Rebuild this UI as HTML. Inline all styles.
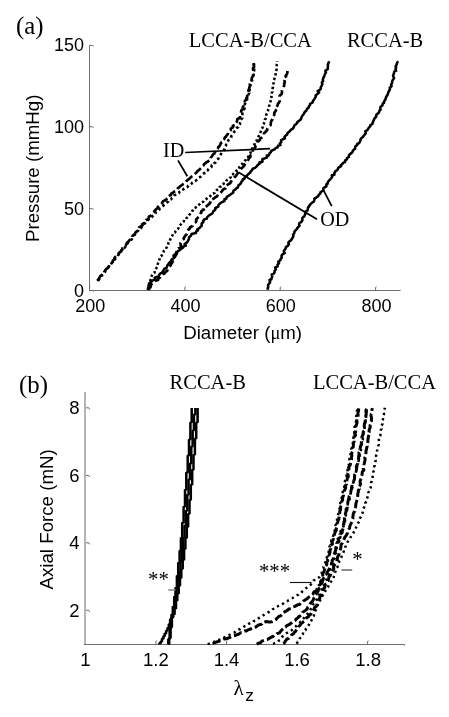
<!DOCTYPE html>
<html lang="en">
<head>
<meta charset="utf-8">
<title>Pressure-diameter and axial force-stretch curves</title>
<style>
  html, body { margin: 0; padding: 0; background: #fff; }
  body { width: 449px; height: 717px; overflow: hidden; }
  svg { display: block; }
  text { fill: #000; }
  .s { font-family: 'Liberation Sans', sans-serif; font-size: 18.0px; }
  .b { font-size: 18.5px; }
  .l { font-size: 18.7px; }
  .sym { font-family: 'Liberation Serif', serif; font-size: 18.4px; }
  .t { font-family: 'Liberation Serif', serif; font-size: 20.5px; }
  .big { font-size: 24.8px; }
  .sm { font-size: 20.2px; }
  .lam { font-size: 21px; }
  .z { font-size: 17.3px; }
  .st { font-size: 20.8px; }
</style>
</head>
<body>
<svg width="449" height="717" viewBox="0 0 449 717">
<rect width="449" height="717" fill="#fff"/>
<g id="plot-a">
<path d="M89.5 45.4 V290.5 H400.6" fill="none" stroke="#6e6e6e" stroke-width="1"/>
<path d="M89.5 45.4 h3.2 l1 .9 M89.5 126.8 h3.2 l1 .9 M89.5 208.7 h3.2 l1 .9 M89.5 290.5 h3.2 l1 .9 M89.5 290.5 v-3.2 l.9 -.6 M184.9 290.5 v-3.2 l.9 -.6 M280.2 290.5 v-3.2 l.9 -.6 M375.6 290.5 v-3.2 l.9 -.6" fill="none" stroke="#666" stroke-width="1"/>
<path d="M97.3 280.9 L98.4 279.4 L99.2 278.2 L99.9 276.7 L101.1 275.4 L101.9 274.8 L103.3 273.0 L104.9 272.0 L105.1 270.6 L106.0 269.3 L107.5 268.0 L108.5 267.0 L109.4 265.5 L109.9 264.3 L111.3 263.1 L112.7 262.1 L112.8 260.7 L114.2 259.4 L114.5 257.8 L115.8 256.4 L116.6 255.7 L118.3 254.5 L118.9 252.9 L120.6 251.8 L121.5 250.6 L122.4 249.4 L122.3 248.2 L124.2 246.5 L125.5 245.8 L126.6 243.8 L126.8 243.1 L128.3 241.7 L129.1 240.6 L130.2 239.6 L132.1 238.2 L132.2 236.3 L133.6 234.8 L135.0 234.3 L135.4 232.5 L136.6 231.5 L137.7 230.5 L138.7 228.6 L139.2 227.2 L140.8 226.6 L142.5 225.4 L142.2 224.1 L144.4 222.9 L145.1 221.5 L145.9 220.1 L148.2 219.3 L148.7 217.9 L148.9 216.5 L150.5 215.9 L151.8 214.5 L152.5 213.4 L154.0 211.8 L154.7 210.7 L156.1 209.3 L157.5 208.2 L157.6 207.2 L159.1 205.8 L159.9 204.9 L161.3 203.8 L161.9 203.1 L163.3 201.1 L164.7 200.6 L166.4 199.2 L167.7 198.1 L167.7 196.6 L169.2 195.8 L171.0 195.1 L171.1 193.8 L173.0 192.8 L174.4 191.6 L176.2 191.0 L177.2 189.6 L178.0 188.0 L179.2 187.3 L180.5 186.0 L182.5 184.6 L182.9 184.3 L184.1 183.7 L185.6 182.3 L186.6 180.9 L187.8 179.8 L188.6 179.3 L190.2 177.9 L191.2 176.8 L193.1 175.7 L194.1 174.6 L195.0 173.7 L196.5 172.5 L197.2 171.3 L199.1 169.9 L199.8 169.3 L201.3 167.9 L201.6 167.3 L203.6 165.5 L203.8 164.7 L204.8 163.6 L206.7 162.1 L207.6 161.8 L209.1 160.5 L211.1 158.8 L210.7 157.8 L211.8 156.5 L213.2 154.3 L214.2 153.8 L214.9 152.4 L215.8 151.1 L217.2 149.5 L218.0 148.4 L218.2 147.1 L219.5 146.1 L220.4 144.5 L220.8 143.0 L222.3 142.1 L222.7 140.2 L224.4 138.9 L225.0 137.2 L225.9 136.8 L226.6 135.4 L227.8 134.1 L228.0 132.7 L229.3 131.3 L230.9 130.0 L230.8 128.6 L233.0 127.3 L232.7 126.0 L234.8 125.0 L234.9 123.4 L236.6 121.9 L237.2 120.4 L237.3 119.0 L239.4 118.2 L240.1 116.5 L240.1 114.9 L240.6 113.3 L241.2 111.5 L241.4 110.3 L242.9 109.1 L242.8 107.2 L243.6 105.8 L243.9 104.3 L244.6 102.8 L244.8 100.9 L246.4 99.7 L246.3 98.0 L247.2 96.9 L247.3 94.9 L247.4 93.7 L248.0 92.4 L248.4 90.4 L249.1 88.7 L249.4 87.4 L249.9 85.8 L249.9 84.0 L250.6 82.8 L252.2 81.7 L251.6 79.5 L251.8 78.0 L252.8 76.2 L253.6 75.0 L252.6 73.0 L253.4 71.4 L253.3 70.4 L252.9 68.2 L254.1 67.2 L253.8 65.7 L253.8 63.7 L253.5 62.1" fill="none" stroke="#000" stroke-width="2.7" stroke-linecap="butt" stroke-linejoin="round" stroke-dasharray="8.5 3.2"/>
<path d="M98.4 281.0 L98.5 280.0 L99.4 278.9 L100.0 277.1 L101.6 275.7 L103.2 274.6 L104.0 273.2 L104.2 271.9 L105.3 270.8 L106.4 269.3 L107.7 268.5 L108.5 267.0 L109.7 265.8 L110.8 264.5 L111.6 263.1 L112.7 261.8 L113.8 260.7 L114.7 259.4 L116.0 258.3 L117.5 257.0 L118.0 255.4 L118.8 254.5 L119.2 252.9 L121.0 251.8 L121.1 250.6 L122.3 249.0 L124.2 248.2 L125.2 247.0 L125.8 245.6 L126.2 244.3 L127.8 243.1 L128.7 241.7 L130.2 240.6 L131.9 239.3 L132.1 238.1 L132.7 236.6 L133.5 235.6 L135.0 234.4 L136.0 233.0 L136.6 231.7 L138.2 230.7 L138.7 229.0 L140.7 228.3 L141.8 227.0 L142.9 225.9 L143.4 224.7 L144.9 223.3 L145.8 222.3 L146.9 221.4 L148.1 220.2 L148.8 219.0 L149.9 217.5 L152.0 216.9 L152.8 215.9 L154.1 214.8 L155.6 213.5 L155.7 211.9 L157.3 211.4 L158.8 210.1 L160.1 208.4 L161.0 208.0 L162.7 206.5 L163.6 205.4 L164.2 204.4 L165.5 203.8 L167.3 202.2 L168.4 201.3 L168.6 200.5 L171.1 199.4 L172.0 197.9 L173.5 196.8 L174.1 195.6 L175.4 194.7 L176.3 194.0 L179.1 193.0 L179.3 192.0 L181.4 191.3 L181.8 190.0 L183.5 189.3 L184.1 188.5 L185.9 187.6 L187.8 186.8 L188.2 185.7 L190.5 184.6 L191.5 183.8 L192.3 182.6 L193.8 181.5 L195.2 181.1 L196.6 180.0 L197.7 179.1 L198.9 177.6 L200.4 176.9 L201.3 175.8 L202.4 174.7 L204.1 173.3 L205.7 172.6 L205.8 171.8 L207.6 170.5 L208.4 169.1 L209.4 168.1 L211.3 167.1 L211.8 165.1 L213.8 164.5 L214.0 163.5 L215.6 162.4 L216.3 161.4 L217.1 160.0 L218.6 158.4 L219.2 157.1 L220.3 155.8 L221.0 154.1 L221.4 152.9 L222.6 151.7 L223.5 150.6 L224.7 148.7 L224.7 147.3 L225.8 145.9 L226.0 144.8 L227.7 143.1 L227.8 142.0 L228.4 140.1 L229.9 138.9 L231.2 137.5 L231.1 136.4 L232.2 135.1 L233.2 133.2 L234.0 132.0 L235.5 130.9 L235.9 129.3 L236.8 127.8 L238.3 127.1 L238.7 125.6 L240.0 124.2 L240.0 122.5 L240.3 121.4 L240.5 119.5 L242.3 118.2 L241.8 116.2 L242.3 114.6 L242.5 113.2 L243.0 111.4 L243.4 110.2 L244.6 108.5 L243.9 106.7 L244.2 105.4 L245.0 103.8 L245.4 102.6 L246.7 100.6 L247.2 99.1 L246.9 98.0 L247.2 96.7 L248.1 95.1 L249.2 93.1 L248.0 91.5 L249.7 90.3 L249.5 88.3 L250.8 86.6 L250.3 85.3 L251.1 83.8 L251.0 81.9 L251.7 80.2 L253.0 78.6 L253.2 77.6 L253.1 75.7 L253.3 74.2 L253.2 72.7 L254.0 71.2 L254.2 69.4 L254.2 68.0 L254.2 66.0 L253.8 64.5 L254.3 62.8" fill="none" stroke="#000" stroke-width="2.6" stroke-linecap="butt" stroke-linejoin="round" stroke-dasharray="2.6 2.8"/>
<path d="M149.0 285.8 L149.1 284.3 L149.3 283.1 L149.9 281.4 L150.5 280.0 L151.3 278.2 L151.2 277.0 L152.0 275.2 L152.9 273.8 L154.5 272.9 L154.8 271.1 L155.3 269.5 L156.3 268.2 L157.4 266.8 L157.4 265.5 L157.9 263.6 L158.8 261.9 L159.0 260.6 L159.6 259.1 L159.8 257.6 L161.2 256.4 L162.0 254.9 L162.5 253.6 L163.5 252.0 L163.7 251.0 L165.4 249.9 L166.1 248.3 L167.0 246.8 L167.8 245.3 L168.2 244.2 L168.5 242.2 L169.8 240.9 L170.2 239.5 L171.0 238.1 L171.7 236.5 L172.6 235.3 L172.9 233.8 L174.9 232.6 L175.6 231.3 L176.8 229.8 L178.1 228.8 L178.6 227.7 L179.0 226.1 L180.3 225.0 L181.3 223.9 L182.5 222.4 L183.8 221.4 L184.2 219.9 L186.0 219.1 L186.5 218.1 L188.1 216.9 L189.0 215.2 L190.0 214.2 L191.0 212.8 L191.9 211.5 L192.8 210.4 L193.6 208.7 L195.1 207.9 L196.8 206.7 L198.1 205.9 L199.1 204.7 L200.2 203.5 L201.1 202.7 L203.1 201.9 L204.0 200.8 L205.3 200.0 L206.6 198.8 L208.0 197.6 L209.1 197.1 L210.4 196.0 L211.3 194.9 L212.8 193.8 L214.8 192.9 L215.3 191.6 L216.4 190.4 L217.8 189.4 L219.1 188.6 L219.7 187.0 L221.1 186.4 L222.6 184.9 L223.6 183.7 L224.7 183.0 L226.3 181.6 L226.7 180.3 L228.1 179.3 L229.0 178.4 L230.8 177.2 L230.9 175.8 L232.4 174.8 L233.5 173.7 L235.0 172.2 L236.0 171.2 L237.4 170.0 L237.5 168.7 L239.3 167.5 L240.1 166.4 L241.0 165.2 L242.5 163.8 L243.1 162.7 L243.9 161.7 L245.4 160.3 L246.1 159.2 L247.3 158.0 L248.4 156.5 L249.2 155.4 L250.4 153.5 L250.6 152.3 L250.9 150.6 L251.8 149.6 L252.5 148.1 L253.1 146.0 L254.3 144.7 L254.8 143.6 L255.1 142.2 L256.6 140.7 L257.1 139.1 L257.9 137.8 L258.6 136.4 L259.4 134.8 L259.9 133.5 L260.9 131.4 L261.3 130.5 L261.9 128.7 L262.6 127.6 L262.6 125.8 L263.6 124.2 L264.1 122.9 L264.8 121.2 L264.9 119.7 L266.2 118.0 L266.3 116.8 L266.3 115.3 L266.6 113.9 L267.5 112.1 L268.0 110.8 L268.2 109.0 L268.9 107.4 L269.1 106.0 L269.9 104.5 L270.0 102.7 L270.6 101.2 L271.2 99.6 L272.0 98.1 L271.2 96.3 L271.6 95.1 L271.7 93.2 L272.4 91.8 L272.1 89.9 L272.5 88.6 L273.0 87.0 L273.0 85.3 L273.3 84.1 L273.8 82.2 L273.7 80.9 L274.3 79.2 L275.0 77.3 L275.4 75.8 L275.6 74.4 L275.4 72.7 L276.0 71.1 L276.6 69.5 L276.8 67.6 L276.8 66.3 L276.7 64.3 L277.3 63.2 L277.1 61.4" fill="none" stroke="#000" stroke-width="2.55" stroke-linecap="butt" stroke-linejoin="round" stroke-dasharray="2.4 2.3"/>
<path d="M148.6 289.5 L149.7 288.1 L150.8 286.6 L150.8 284.8 L151.7 284.1 L153.1 282.7 L153.8 281.7 L155.5 280.8 L158.1 279.9 L158.0 278.9 L160.0 277.4 L160.2 276.7 L162.2 275.6 L163.0 274.5 L164.3 273.4 L165.7 271.8 L167.4 270.6 L167.6 269.6 L168.6 267.7 L169.0 266.9 L170.7 265.3 L171.2 264.0 L172.5 262.2 L172.8 261.0 L174.4 259.8 L173.2 258.6 L174.6 257.1 L175.9 255.3 L175.9 253.8 L176.3 252.1 L177.2 251.0 L177.3 249.3 L178.8 248.1 L180.7 247.0 L180.8 245.1 L180.4 243.2 L181.3 242.0 L182.3 240.4 L183.8 239.0 L183.7 238.4 L184.6 236.7 L186.2 234.7 L187.0 234.0 L187.3 232.8 L187.8 231.0 L188.5 229.6 L189.9 228.4 L190.0 227.2 L192.5 226.0 L192.7 224.9 L194.2 223.5 L195.8 222.2 L196.4 220.9 L196.2 219.4 L198.1 217.4 L199.2 216.5 L199.2 215.3 L200.0 213.8 L201.3 212.8 L201.4 211.1 L203.9 209.6 L203.0 209.1 L204.7 207.7 L206.3 206.4 L207.4 205.4 L208.8 204.4 L210.0 203.0 L211.0 201.1 L212.8 200.5 L212.3 199.4 L214.5 198.1 L215.3 197.3 L216.9 196.5 L218.1 194.8 L218.7 193.5 L220.0 193.3 L221.8 191.4 L222.7 190.0 L223.3 189.3 L225.8 188.2 L227.0 186.6 L226.2 185.9 L228.2 184.3 L230.4 183.0 L230.6 182.1 L231.4 181.1 L232.3 179.5 L233.2 178.5 L234.4 177.2 L235.3 176.8 L236.9 174.5 L237.4 173.9 L238.4 172.2 L239.0 170.9 L240.6 169.9 L241.1 168.7 L242.5 167.5 L244.1 165.9 L244.7 164.4 L245.8 163.1 L246.7 162.1 L247.5 160.8 L248.3 159.7 L249.1 158.1 L250.4 156.9 L250.3 155.6 L252.3 153.8 L252.4 151.8 L252.7 150.5 L253.6 149.0 L254.3 148.5 L255.6 146.4 L256.0 145.6 L257.8 144.1 L257.8 143.1 L258.0 141.6 L259.8 140.0 L260.1 138.7 L262.0 137.4 L263.5 136.1 L264.1 134.5 L264.0 133.3 L265.1 132.4 L267.2 130.0 L267.2 129.2 L267.8 127.4 L269.1 126.3 L270.6 125.1 L270.8 123.4 L270.9 122.2 L271.8 120.0 L272.6 119.4 L272.7 117.4 L273.1 116.3 L274.3 114.7 L274.4 112.4 L275.4 111.4 L276.0 110.2 L277.7 109.0 L276.6 107.1 L277.5 105.6 L278.0 103.6 L278.8 102.9 L279.6 101.4 L279.3 99.4 L279.6 97.7 L279.7 95.8 L280.5 95.0 L281.7 94.0 L282.0 91.8 L281.9 90.5 L282.8 88.7 L283.5 86.7 L284.2 85.9 L284.2 83.6 L284.8 82.3 L284.5 80.9 L285.2 79.5 L287.0 77.8 L285.5 76.3 L286.8 74.3 L287.4 72.6 L287.4 71.4 L287.5 69.6" fill="none" stroke="#000" stroke-width="2.7" stroke-linecap="butt" stroke-linejoin="round" stroke-dasharray="7.5 3.5"/>
<path d="M147.9 290.2 L148.1 287.7 L148.9 286.9 L148.5 286.2 L149.3 283.1 L149.8 282.8 L151.9 281.4 L153.2 280.1 L155.5 279.6 L154.7 277.6 L156.6 277.0 L158.8 276.4 L159.3 274.6 L160.4 273.4 L162.7 272.5 L162.7 271.2 L163.3 270.8 L164.3 268.7 L166.4 268.1 L167.3 266.1 L167.3 265.5 L168.5 263.9 L170.4 261.7 L171.3 261.4 L171.5 259.6 L173.2 258.5 L174.0 257.9 L173.5 255.6 L175.3 254.3 L176.8 253.9 L177.2 252.2 L177.4 251.6 L179.7 250.0 L181.5 248.5 L183.1 247.7 L182.0 247.0 L185.9 245.6 L184.6 244.0 L186.7 242.7 L187.8 241.2 L188.5 239.7 L188.9 239.3 L189.1 237.2 L191.1 235.6 L191.4 234.7 L191.5 234.1 L196.0 233.0 L196.0 231.7 L197.9 230.5 L197.3 229.6 L199.8 227.7 L200.8 226.5 L201.7 225.9 L201.6 224.1 L201.9 223.1 L203.4 222.1 L203.3 220.7 L204.6 219.2 L206.8 218.8 L207.2 217.1 L208.8 215.6 L210.0 214.8 L212.3 213.5 L213.1 211.9 L213.4 211.1 L215.3 209.8 L215.2 208.0 L216.6 207.5 L218.5 206.3 L218.3 205.1 L220.0 203.6 L220.6 202.9 L222.6 201.9 L224.6 200.8 L224.4 199.3 L226.2 198.8 L226.7 197.0 L227.7 196.3 L228.8 195.7 L231.5 193.8 L233.2 192.7 L233.2 192.2 L233.6 190.5 L235.6 189.4 L236.1 188.4 L237.9 187.5 L238.6 185.1 L239.7 184.5 L241.0 183.2 L241.3 181.9 L242.5 180.8 L242.7 179.5 L244.5 178.7 L244.9 177.0 L246.7 176.2 L247.3 175.1 L249.0 173.5 L250.3 172.6 L250.3 172.0 L251.8 170.3 L252.8 168.8 L255.0 167.9 L256.7 166.4 L257.3 165.7 L257.8 164.9 L260.1 163.1 L259.5 162.3 L262.5 161.7 L262.4 160.0 L262.3 159.2 L266.7 157.6 L267.2 156.5 L266.8 155.5 L268.7 155.4 L269.6 153.3 L270.9 152.1 L271.1 151.0 L272.8 150.1 L274.7 149.3 L275.7 148.0 L277.5 147.6 L278.0 145.8 L280.4 145.1 L279.7 143.5 L281.3 142.3 L281.0 140.3 L282.3 139.5 L284.9 138.3 L284.5 136.9 L286.4 134.9 L287.0 134.8 L287.5 133.1 L289.0 131.9 L290.0 130.8 L291.1 129.6 L292.9 128.6 L293.9 126.8 L294.2 125.7 L295.0 124.9 L296.7 123.5 L297.4 122.1 L299.1 120.7 L301.1 119.3 L301.0 118.4 L301.5 117.6 L302.4 115.5 L303.0 115.1 L303.9 113.6 L304.8 111.9 L306.1 111.0 L307.0 108.9 L308.7 107.5 L308.9 106.3 L309.9 105.2 L310.1 103.9 L312.6 102.5 L312.8 101.3 L314.3 99.1 L314.6 98.6 L315.8 96.6 L315.6 95.5 L317.1 94.2 L319.1 92.5 L317.6 91.1 L319.8 89.8 L320.8 88.7 L320.7 87.5 L321.5 86.0 L322.4 83.9 L321.8 82.5 L323.1 80.9 L322.8 79.9 L323.4 77.5 L323.9 77.1 L324.7 74.9 L325.3 73.3 L326.0 72.1 L325.3 70.8 L327.8 69.0 L327.8 67.8 L328.0 65.9 L327.8 64.7 L328.4 63.2 L329.2 61.2" fill="none" stroke="#000" stroke-width="2.55" stroke-linecap="butt" stroke-linejoin="round"/>
<path d="M268.0 289.8 L267.7 288.6 L268.2 287.0 L268.1 285.0 L269.0 283.8 L270.1 282.2 L269.5 280.0 L271.2 279.5 L271.7 278.0 L272.3 276.2 L271.7 274.5 L273.6 273.9 L274.7 272.1 L274.6 270.9 L275.8 269.5 L275.2 267.5 L277.6 266.4 L277.5 264.6 L279.0 263.2 L278.2 261.7 L280.3 260.3 L280.5 259.2 L281.8 257.4 L281.5 255.9 L282.4 254.4 L284.7 253.1 L283.7 251.3 L284.5 250.0 L285.5 248.7 L285.9 247.1 L287.9 245.8 L288.9 244.2 L288.4 243.7 L288.6 242.0 L291.0 240.3 L291.8 238.8 L292.4 238.1 L293.4 236.1 L293.1 234.5 L294.3 233.2 L294.4 231.8 L295.1 230.8 L297.2 228.9 L297.1 228.2 L299.5 225.8 L299.1 224.9 L299.4 222.9 L301.0 222.4 L302.4 220.3 L302.4 219.0 L302.3 217.9 L304.0 216.6 L305.3 214.4 L305.1 213.2 L305.7 211.4 L307.5 210.5 L307.8 209.0 L308.0 207.6 L309.2 206.1 L309.9 204.8 L311.4 203.4 L312.2 202.5 L313.8 201.6 L314.6 199.2 L314.4 198.6 L316.6 197.3 L318.0 196.4 L318.8 194.7 L320.2 193.8 L320.5 192.3 L321.3 191.7 L323.4 190.2 L323.3 188.9 L323.7 187.8 L326.4 186.3 L326.3 184.5 L327.5 183.9 L327.8 182.4 L328.7 180.9 L329.7 179.9 L331.0 178.6 L332.3 176.5 L331.8 175.3 L334.4 174.8 L334.3 173.4 L335.3 171.4 L337.3 170.0 L337.9 169.0 L338.2 167.8 L341.1 166.2 L340.7 165.5 L342.4 163.9 L343.4 162.6 L345.1 162.1 L345.1 160.3 L346.9 159.3 L346.9 158.2 L348.9 157.0 L348.9 155.3 L350.0 154.1 L352.2 152.5 L352.3 152.1 L353.1 150.4 L355.2 148.5 L355.1 147.5 L355.4 146.4 L357.2 145.0 L357.1 144.2 L359.4 142.8 L360.4 140.8 L360.4 139.7 L361.4 138.0 L362.8 137.2 L363.6 135.9 L364.0 135.4 L365.8 133.2 L365.3 131.2 L367.1 130.3 L368.0 129.2 L369.0 127.4 L370.3 126.2 L370.4 125.1 L372.3 124.0 L372.8 122.5 L373.4 120.9 L373.8 120.0 L374.6 118.2 L376.2 116.7 L376.2 115.0 L377.5 113.8 L378.8 112.8 L379.5 110.6 L380.6 109.7 L380.3 108.5 L380.6 106.7 L382.4 105.4 L382.8 103.5 L384.0 102.9 L384.1 101.4 L385.4 99.6 L385.9 97.5 L386.6 96.3 L387.1 95.5 L387.8 94.3 L388.3 92.3 L389.0 91.2 L390.0 89.0 L389.7 87.7 L391.6 86.2 L391.1 84.8 L392.2 82.7 L392.1 81.9 L392.5 80.5 L394.1 78.1 L393.3 76.5 L393.1 75.5 L393.8 73.6 L394.4 71.4 L396.1 70.9 L395.5 69.1 L396.2 67.3 L395.5 66.6 L396.7 64.4 L397.2 62.5 L398.2 61.2" fill="none" stroke="#000" stroke-width="2.55" stroke-linecap="butt" stroke-linejoin="round"/>
<path d="M185.2 152.5 L270 148.7 M178 160.4 L187.3 176.2 M238.4 172.3 L317 219.2 M323.6 190.4 L331.7 206.2" fill="none" stroke="#000" stroke-width="1.75"/>
</g>
<g id="plot-b">
<path d="M85 392.0 V645.0" fill="none" stroke="#b4b4b4" stroke-width="2"/>
<path d="M84 644.5 H404.6" fill="none" stroke="#6e6e6e" stroke-width="1"/>
<path d="M86 407.8 h2.8 l.8 1.6 M86 475.4 h2.8 l.8 1.6 M86 542.8 h2.8 l.8 1.6 M86 610.2 h2.8 l.8 1.6 M155.9 644.5 v-3.2 l.9 -.6 M226.5 644.5 v-3.2 l.9 -.6 M297.0 644.5 v-3.2 l.9 -.6 M367.6 644.5 v-3.2 l.9 -.6 M404.6 644.5 v1.2" fill="none" stroke="#6a6a6a" stroke-width="1"/>
<path transform="translate(-0.0 0)" d="M191.7 408.0 L191.7 409.0 L191.7 410.0 L191.7 411.0 L191.7 412.0 L191.7 413.0 L191.7 414.0 L191.7 415.0 L191.7 416.0 L191.7 417.0 L191.7 418.0 L191.7 419.0 L191.7 420.0 L191.7 421.0 L191.7 422.0 L190.4 423.0 L190.4 424.0 L190.4 425.0 L190.4 426.0 L190.4 427.0 L190.4 428.0 L190.4 429.0 L190.4 430.0 L190.4 431.0 L190.4 432.0 L190.4 433.0 L190.4 434.1 L190.4 435.1 L190.4 436.1 L190.4 437.1 L190.4 438.1 L190.4 439.1 L189.0 440.1 L189.0 441.1 L189.0 442.1 L189.0 443.1 L189.0 444.1 L189.0 445.1 L189.0 446.1 L189.0 447.1 L189.0 448.1 L189.0 449.1 L189.0 450.1 L189.0 451.1 L189.0 452.1 L189.0 453.1 L189.0 454.1 L189.0 455.1 L187.7 456.1 L187.7 457.1 L187.7 458.1 L187.7 459.1 L187.7 460.1 L187.7 461.1 L187.7 462.1 L187.7 463.1 L187.7 464.1 L187.7 465.1 L187.7 466.1 L187.7 467.1 L187.7 468.1 L187.7 469.1 L187.7 470.1 L187.7 471.1 L187.7 472.1 L186.3 473.1 L186.3 474.1 L186.3 475.1 L186.3 476.1 L186.3 477.1 L186.3 478.1 L186.3 479.2 L186.3 480.2 L186.3 481.2 L186.3 482.2 L186.3 483.2 L186.3 484.2 L186.3 485.2 L186.3 486.2 L186.3 487.2 L186.3 488.2 L186.3 489.2 L185.0 490.2 L185.0 491.2 L185.0 492.2 L185.0 493.2 L185.0 494.2 L185.0 495.2 L185.0 496.2 L185.0 497.2 L185.0 498.2 L185.0 499.2 L185.0 500.2 L185.0 501.2 L185.0 502.2 L185.0 503.2 L185.0 504.2 L185.0 505.2 L185.0 506.2 L183.6 507.2 L183.6 508.2 L183.6 509.2 L183.6 510.2 L183.6 511.2 L183.6 512.2 L183.6 513.2 L183.6 514.2 L183.6 515.2 L183.6 516.2 L183.6 517.2 L183.6 518.2 L183.6 519.2 L183.6 520.2 L183.6 521.2 L183.6 522.2 L182.2 523.2 L182.2 524.2 L182.2 525.2 L182.2 526.2 L182.2 527.3 L182.2 528.3 L182.2 529.3 L182.2 530.3 L182.2 531.3 L182.2 532.3 L182.2 533.3 L182.2 534.3 L182.2 535.3 L182.2 536.3 L182.2 537.3 L180.9 538.3 L180.9 539.3 L180.9 540.3 L180.9 541.3 L180.9 542.3 L180.9 543.3 L180.9 544.3 L180.9 545.3 L180.9 546.3 L180.9 547.3 L180.9 548.3 L180.9 549.3 L180.9 550.3 L179.6 551.3 L179.6 552.3 L179.6 553.3 L179.6 554.3 L179.6 555.3 L179.6 556.3 L179.6 557.3 L179.6 558.3 L179.6 559.3 L179.6 560.3 L179.6 561.3 L179.6 562.3 L178.2 563.3 L178.2 564.3 L178.2 565.3 L178.2 566.3 L178.2 567.3 L178.2 568.3 L178.2 569.3 L178.2 570.3 L178.2 571.3 L178.2 572.3 L178.2 573.3 L178.2 574.3 L178.2 575.3 L176.9 576.3 L176.9 577.3 L176.9 578.3 L176.9 579.3 L176.9 580.3 L176.9 581.3 L176.9 582.3 L176.9 583.2 L176.9 584.2 L176.9 585.2 L176.9 586.2 L176.9 587.2 L175.5 588.2 L175.5 589.2 L175.5 590.2 L175.5 591.2 L175.5 592.2 L175.5 593.2 L175.5 594.2 L175.5 595.2 L175.5 596.2 L174.2 597.2 L174.2 598.2 L174.2 599.2 L174.2 600.2 L174.2 601.2 L174.2 602.2 L174.2 603.2 L174.2 604.2 L174.2 605.2 L174.2 606.2 L172.8 607.2 L172.8 608.2 L172.8 609.2 L172.8 610.1 L172.8 611.1 L172.8 612.1 L172.8 613.1 L172.8 614.1 L171.5 615.1 L171.5 616.0 L171.5 617.0 L171.5 618.0 L171.5 619.0 L170.1 619.9 L170.1 620.9 L170.1 621.8 L170.1 622.8 L170.1 623.8 L168.8 624.7 L168.8 625.7 L168.8 626.6 L168.8 627.6 L167.4 628.5 L167.4 629.4 L167.4 630.3 L166.1 631.2 L166.1 632.1 L166.1 633.0 L164.7 633.9 L164.7 634.8 L164.7 635.7 L163.4 636.6 L163.4 637.4 L163.4 638.3 L162.0 639.2 L162.0 640.1 L162.0 641.0 L160.7 641.9 L160.7 642.8 L159.3 643.7 L159.3 644.6" fill="none" stroke="#000" stroke-width="2.5" stroke-linecap="butt" stroke-linejoin="miter"/>
<path transform="translate(-0.45 0)" d="M195.8 408.0 L195.8 409.0 L195.8 410.0 L195.8 411.0 L195.8 412.0 L195.8 413.0 L195.8 414.0 L194.4 415.0 L194.4 416.0 L194.4 417.0 L194.4 418.0 L194.4 419.0 L194.4 420.0 L194.4 421.0 L194.4 422.0 L194.4 423.0 L194.4 424.0 L194.4 425.0 L194.4 426.0 L194.4 427.0 L194.4 428.0 L194.4 429.0 L194.4 430.0 L193.1 431.0 L193.1 432.0 L193.1 433.0 L193.1 434.1 L193.1 435.1 L193.1 436.1 L193.1 437.1 L193.1 438.1 L193.1 439.1 L193.1 440.1 L193.1 441.1 L193.1 442.1 L193.1 443.1 L193.1 444.1 L193.1 445.1 L193.1 446.1 L191.7 447.1 L191.7 448.1 L191.7 449.1 L191.7 450.1 L191.7 451.1 L191.7 452.1 L191.7 453.1 L191.7 454.1 L191.7 455.1 L191.7 456.1 L191.7 457.1 L191.7 458.1 L191.7 459.1 L191.7 460.1 L191.7 461.1 L191.7 462.1 L191.7 463.1 L190.4 464.1 L190.4 465.1 L190.4 466.1 L190.4 467.1 L190.4 468.1 L190.4 469.1 L190.4 470.1 L190.4 471.1 L190.4 472.1 L190.4 473.1 L190.4 474.1 L190.4 475.1 L190.4 476.1 L190.4 477.1 L190.4 478.1 L190.4 479.1 L189.0 480.1 L189.0 481.1 L189.0 482.1 L189.0 483.1 L189.0 484.2 L189.0 485.2 L189.0 486.2 L189.0 487.2 L189.0 488.2 L189.0 489.2 L189.0 490.2 L189.0 491.2 L189.0 492.2 L189.0 493.2 L189.0 494.2 L187.7 495.2 L187.7 496.2 L187.7 497.2 L187.7 498.2 L187.7 499.2 L187.7 500.2 L187.7 501.2 L187.7 502.2 L187.7 503.2 L187.7 504.2 L187.7 505.2 L187.7 506.2 L187.7 507.2 L187.7 508.2 L187.7 509.2 L187.7 510.2 L186.3 511.2 L186.3 512.2 L186.3 513.2 L186.3 514.2 L186.3 515.2 L186.3 516.2 L186.3 517.2 L186.3 518.2 L186.3 519.2 L186.3 520.2 L186.3 521.2 L186.3 522.2 L186.3 523.2 L186.3 524.2 L186.3 525.2 L185.0 526.2 L185.0 527.2 L185.0 528.2 L185.0 529.2 L185.0 530.2 L185.0 531.2 L185.0 532.2 L185.0 533.2 L185.0 534.2 L185.0 535.2 L185.0 536.2 L185.0 537.2 L183.6 538.2 L183.6 539.2 L183.6 540.2 L183.6 541.2 L183.6 542.2 L183.6 543.2 L183.6 544.2 L183.6 545.2 L183.6 546.2 L183.6 547.2 L183.6 548.2 L183.6 549.2 L182.2 550.2 L182.2 551.2 L182.2 552.2 L182.2 553.2 L182.2 554.2 L182.2 555.2 L182.2 556.2 L182.2 557.2 L182.2 558.2 L182.2 559.2 L182.2 560.2 L180.9 561.2 L180.9 562.2 L180.9 563.2 L180.9 564.2 L180.9 565.2 L180.9 566.2 L180.9 567.2 L180.9 568.2 L180.9 569.2 L180.9 570.2 L180.9 571.2 L179.6 572.2 L179.6 573.2 L179.6 574.2 L179.6 575.2 L179.6 576.2 L179.6 577.1 L179.6 578.1 L179.6 579.1 L179.6 580.1 L179.6 581.1 L178.2 582.1 L178.2 583.1 L178.2 584.1 L178.2 585.1 L178.2 586.1 L178.2 587.1 L178.2 588.1 L178.2 589.1 L178.2 590.1 L176.9 591.1 L176.9 592.1 L176.9 593.1 L176.9 594.1 L176.9 595.0 L176.9 596.0 L176.9 597.0 L176.9 598.0 L175.5 599.0 L175.5 600.0 L175.5 601.0 L175.5 602.0 L175.5 603.0 L175.5 604.0 L175.5 605.0 L175.5 606.0 L175.5 607.0 L174.2 608.0 L174.2 609.0 L174.2 609.9 L174.2 610.9 L174.2 611.9 L174.2 612.9 L174.2 613.9 L172.8 614.8 L172.8 615.8 L172.8 616.7 L172.8 617.7 L171.5 618.7 L171.5 619.7 L171.5 620.6 L171.5 621.6 L171.5 622.6 L171.5 623.6 L171.5 624.6 L171.5 625.6 L171.5 626.6 L171.5 627.6 L170.1 628.6 L170.1 629.6 L170.1 630.6 L170.1 631.6 L170.1 632.6 L170.1 633.6 L170.1 634.6 L170.1 635.6 L170.1 636.6 L170.1 637.6 L170.1 638.6 L168.8 639.6 L168.8 640.6 L168.8 641.6 L168.8 642.6 L168.8 643.6 L168.8 644.6" fill="none" stroke="#000" stroke-width="2.5" stroke-linecap="butt" stroke-linejoin="miter"/>
<path transform="translate(-0.9 0)" d="M198.5 408.0 L198.5 409.0 L198.5 410.0 L198.5 411.0 L198.5 412.0 L198.5 413.0 L198.5 414.0 L198.5 415.0 L198.5 416.0 L198.5 417.0 L198.5 418.0 L198.5 419.0 L198.5 420.0 L198.5 421.0 L198.5 422.0 L197.1 423.1 L197.1 424.1 L197.1 425.1 L197.1 426.1 L197.1 427.1 L197.1 428.1 L197.1 429.1 L197.1 430.1 L197.1 431.1 L197.1 432.1 L197.1 433.1 L197.1 434.1 L197.1 435.1 L197.1 436.1 L197.1 437.1 L197.1 438.1 L195.8 439.1 L195.8 440.1 L195.8 441.1 L195.8 442.1 L195.8 443.1 L195.8 444.1 L195.8 445.1 L195.8 446.1 L195.8 447.1 L195.8 448.1 L195.8 449.1 L195.8 450.1 L195.8 451.1 L195.8 452.1 L195.8 453.1 L195.8 454.2 L194.4 455.2 L194.4 456.2 L194.4 457.2 L194.4 458.2 L194.4 459.2 L194.4 460.2 L194.4 461.2 L194.4 462.2 L194.4 463.2 L194.4 464.2 L194.4 465.2 L194.4 466.2 L194.4 467.2 L194.4 468.2 L194.4 469.2 L193.1 470.2 L193.1 471.2 L193.1 472.2 L193.1 473.2 L193.1 474.2 L193.1 475.2 L193.1 476.2 L193.1 477.2 L193.1 478.2 L193.1 479.2 L193.1 480.2 L193.1 481.2 L193.1 482.2 L193.1 483.2 L193.1 484.2 L191.7 485.2 L191.7 486.3 L191.7 487.3 L191.7 488.3 L191.7 489.3 L191.7 490.3 L191.7 491.3 L191.7 492.3 L191.7 493.3 L191.7 494.3 L191.7 495.3 L191.7 496.3 L191.7 497.3 L191.7 498.3 L191.7 499.3 L190.4 500.3 L190.4 501.3 L190.4 502.3 L190.4 503.3 L190.4 504.3 L190.4 505.3 L190.4 506.3 L190.4 507.3 L190.4 508.3 L190.4 509.3 L190.4 510.3 L190.4 511.3 L190.4 512.3 L190.4 513.3 L189.0 514.3 L189.0 515.3 L189.0 516.3 L189.0 517.3 L189.0 518.3 L189.0 519.3 L189.0 520.3 L189.0 521.3 L189.0 522.3 L189.0 523.3 L189.0 524.3 L189.0 525.3 L189.0 526.3 L187.7 527.3 L187.7 528.3 L187.7 529.3 L187.7 530.3 L187.7 531.3 L187.7 532.3 L187.7 533.3 L187.7 534.3 L187.7 535.3 L187.7 536.3 L187.7 537.3 L186.3 538.3 L186.3 539.3 L186.3 540.3 L186.3 541.3 L186.3 542.3 L186.3 543.3 L186.3 544.3 L186.3 545.3 L186.3 546.3 L186.3 547.3 L186.3 548.3 L185.0 549.3 L185.0 550.3 L185.0 551.3 L185.0 552.3 L185.0 553.3 L185.0 554.3 L185.0 555.3 L185.0 556.3 L185.0 557.3 L185.0 558.3 L185.0 559.3 L183.6 560.3 L183.6 561.3 L183.6 562.3 L183.6 563.3 L183.6 564.3 L183.6 565.3 L183.6 566.3 L183.6 567.3 L183.6 568.3 L182.2 569.3 L182.2 570.3 L182.2 571.3 L182.2 572.3 L182.2 573.3 L182.2 574.3 L182.2 575.3 L182.2 576.3 L182.2 577.3 L180.9 578.3 L180.9 579.3 L180.9 580.2 L180.9 581.2 L180.9 582.2 L180.9 583.2 L180.9 584.2 L180.9 585.2 L179.6 586.2 L179.6 587.2 L179.6 588.2 L179.6 589.2 L179.6 590.2 L179.6 591.2 L179.6 592.1 L179.6 593.1 L178.2 594.1 L178.2 595.1 L178.2 596.1 L178.2 597.1 L178.2 598.1 L178.2 599.1 L178.2 600.1 L176.9 601.0 L176.9 602.0 L176.9 603.0 L176.9 604.0 L176.9 605.0 L176.9 606.0 L176.9 607.0 L176.9 608.0 L175.5 609.0 L175.5 610.0 L175.5 611.0 L175.5 612.0 L175.5 612.9 L175.5 613.9 L174.2 614.8 L174.2 615.8 L174.2 616.7 L172.8 617.7 L172.8 618.6 L172.8 619.6 L172.8 620.6 L172.8 621.6 L172.8 622.6 L172.8 623.6 L172.8 624.6 L172.8 625.6 L172.8 626.6 L171.5 627.6 L171.5 628.6 L171.5 629.6 L171.5 630.6 L171.5 631.6 L171.5 632.6 L171.5 633.6 L171.5 634.6 L171.5 635.6 L171.5 636.6 L171.5 637.6 L170.1 638.6 L170.1 639.6 L170.1 640.6 L170.1 641.6 L170.1 642.6 L170.1 643.6 L170.1 644.6" fill="none" stroke="#000" stroke-width="2.5" stroke-linecap="butt" stroke-linejoin="miter"/>
<path d="M207.7 644.1 L209.3 643.6 L211.1 642.9 L212.4 642.3 L213.9 642.1 L216.0 641.1 L217.3 640.5 L218.7 639.9 L220.1 639.5 L221.6 639.0 L223.3 638.1 L224.4 637.3 L226.3 636.6 L227.0 636.1 L228.7 635.1 L229.8 634.7 L231.5 633.9 L233.1 633.0 L234.7 632.3 L235.6 631.5 L237.2 630.8 L238.5 629.6 L239.8 629.2 L241.1 628.2 L242.8 627.3 L243.8 626.7 L245.7 625.9 L247.1 625.0 L248.3 624.1 L249.6 623.4 L250.9 623.0 L253.1 622.3 L253.7 621.2 L255.8 620.5 L257.0 619.4 L258.1 618.6 L259.3 617.8 L261.2 616.8 L262.7 615.9 L263.4 615.2 L264.9 614.2 L266.6 613.2 L267.7 612.6 L269.5 611.6 L270.3 611.0 L271.9 610.0 L272.8 609.1 L275.1 608.4 L275.8 607.5 L276.8 606.7 L278.7 605.9 L280.1 605.3 L282.0 604.5 L282.9 603.8 L284.3 602.5 L285.9 601.9 L287.5 601.1 L288.5 600.3 L290.2 599.4 L291.4 598.6 L292.6 598.0 L294.1 597.0 L295.4 596.0 L296.5 595.5 L298.4 594.6 L299.1 593.4 L301.1 592.7 L302.3 591.5 L303.3 590.8 L304.4 589.6 L305.7 588.4 L307.1 587.4 L308.4 586.3 L309.5 585.4 L310.9 584.4 L311.7 583.3 L313.0 582.0 L313.7 580.4 L315.4 579.8 L316.5 578.5 L317.8 577.9 L319.6 577.1 L320.6 575.9 L320.4 574.6 L321.7 573.1 L321.7 571.5 L322.8 569.8 L323.6 568.2 L323.4 566.7 L324.1 565.5 L324.6 563.8 L325.4 562.4 L326.0 560.7 L326.7 559.3 L326.6 557.7 L327.7 556.3 L327.5 554.8 L328.2 553.1 L328.8 551.4 L329.1 549.8 L329.1 548.6 L329.5 546.8 L330.0 545.2 L330.6 543.9 L331.3 542.3 L331.2 540.7 L332.1 539.0 L332.6 537.9 L333.1 536.1 L333.5 534.5 L334.2 532.9 L334.4 531.2 L335.0 529.6 L335.3 528.3 L336.0 526.8 L335.5 525.1 L336.7 523.4 L336.6 521.8 L337.0 520.4 L337.1 518.7 L337.2 517.4 L337.9 515.9 L338.1 514.6 L338.7 512.7 L338.5 510.9 L339.5 509.3 L339.6 507.3 L339.7 506.1 L339.9 504.6 L340.2 503.2 L340.5 501.6 L341.0 500.0 L341.5 498.4 L341.8 496.9 L341.8 495.4 L342.5 493.5 L342.7 492.0 L343.3 490.3 L344.1 489.2 L344.2 487.6 L344.3 485.9 L344.3 484.0 L344.7 482.7 L345.0 481.0 L345.9 479.5 L345.9 477.9 L346.4 476.4 L346.6 474.7 L347.1 473.3 L347.7 471.6 L347.5 470.0 L347.9 468.4 L348.1 466.8 L348.9 465.4 L348.7 463.7 L349.0 462.2 L349.2 460.5 L349.5 458.7 L350.2 457.5 L351.0 455.6 L350.4 454.3 L351.2 452.7 L351.3 450.8 L351.2 449.3 L351.7 447.8 L352.0 446.1 L352.1 444.5 L353.0 443.2 L352.3 441.5 L353.1 440.0 L353.4 438.3 L353.4 436.8 L353.8 435.0 L354.2 433.5 L354.3 432.0 L354.6 430.4 L354.9 428.7 L354.5 427.0 L355.6 425.6 L356.0 424.0 L355.9 422.3 L356.1 420.7 L355.7 419.3 L356.3 418.0 L356.3 416.0 L356.6 414.5 L357.2 412.9 L356.9 410.8 L357.3 409.6 L357.0 407.9" fill="none" stroke="#000" stroke-width="2.5" stroke-linecap="butt" stroke-linejoin="round" stroke-dasharray="2.3 3.4"/>
<path d="M212.5 643.4 L213.4 643.2 L214.8 642.6 L216.5 641.9 L218.2 641.6 L219.4 641.0 L221.1 640.4 L222.2 640.0 L224.1 639.1 L225.9 638.8 L227.9 638.3 L228.9 637.7 L230.3 637.3 L232.1 636.3 L233.6 635.6 L235.3 635.4 L236.6 634.8 L237.7 634.6 L239.3 633.7 L240.8 632.7 L242.3 632.5 L243.8 631.5 L244.9 630.8 L245.9 631.1 L247.9 630.0 L249.0 629.5 L251.2 628.8 L252.7 628.4 L253.5 627.5 L255.8 627.0 L257.4 625.8 L258.5 624.9 L260.5 624.6 L262.0 623.7 L262.4 622.7 L264.6 622.0 L265.9 621.7 L267.5 621.6 L269.3 622.1 L270.4 621.9 L271.9 621.8 L273.2 621.2 L274.6 620.5 L276.2 619.3 L277.0 618.2 L278.5 616.7 L280.3 616.0 L281.3 615.3 L282.7 613.7 L283.1 612.6 L284.7 611.9 L286.2 611.0 L287.7 610.1 L288.9 608.9 L290.9 608.6 L292.0 607.5 L293.5 606.9 L294.9 606.4 L296.6 605.4 L297.5 604.8 L299.5 604.5 L300.6 603.1 L301.9 602.3 L303.2 601.0 L304.7 600.2 L306.2 599.2 L307.5 598.4 L308.6 597.3 L310.1 596.4 L311.1 595.5 L312.7 594.3 L313.5 593.1 L313.9 592.0 L316.1 591.1 L316.7 589.8 L317.1 588.6 L318.3 587.3 L318.9 585.5 L320.6 584.3 L320.7 582.4 L320.5 581.7 L321.8 579.9 L322.0 578.1 L323.3 576.3 L322.7 575.1 L322.8 573.1 L324.0 571.8 L324.3 570.5 L324.7 568.8 L324.6 567.2 L326.0 565.9 L326.9 564.0 L326.1 562.7 L327.7 561.0 L327.5 559.4 L329.0 558.1 L328.8 556.3 L329.0 555.3 L329.8 553.2 L330.0 552.2 L330.0 550.0 L330.8 548.8 L330.8 546.8 L330.7 545.2 L332.5 544.0 L332.1 542.6 L332.5 540.6 L333.3 539.6 L333.1 537.6 L333.6 536.3 L334.4 534.8 L334.8 533.3 L335.5 531.2 L336.3 530.4 L336.2 528.6 L336.9 526.8 L337.3 525.2 L337.1 523.4 L337.9 521.9 L337.9 520.8 L338.9 519.0 L339.0 517.3 L339.1 515.8 L339.0 514.6 L339.8 512.7 L339.8 511.0 L340.6 509.8 L340.6 508.1 L340.7 506.4 L341.6 504.7 L341.9 502.9 L341.7 501.4 L342.7 500.0 L342.5 498.5 L342.9 497.0 L343.4 495.5 L343.5 493.8 L343.9 492.3 L344.4 490.4 L345.4 488.6 L345.7 487.4 L345.4 485.7 L346.5 484.2 L346.2 482.7 L346.7 480.9 L347.2 479.4 L347.3 478.0 L348.4 476.5 L348.0 474.7 L347.8 473.4 L349.0 471.7 L348.7 469.9 L349.1 468.6 L348.5 467.4 L350.2 465.2 L350.4 464.0 L350.7 462.5 L351.1 460.9 L351.6 458.9 L351.3 457.9 L351.9 455.9 L351.6 454.2 L352.0 452.6 L352.8 451.2 L352.8 449.5 L352.5 447.9 L353.3 446.6 L353.4 444.6 L353.4 442.9 L354.1 441.7 L354.1 440.1 L353.9 438.6 L354.3 436.6 L355.6 435.4 L354.7 433.7 L355.5 432.4 L355.9 430.1 L356.2 428.8 L355.7 427.1 L356.3 425.3 L356.7 423.9 L357.1 422.6 L356.8 420.7 L356.9 419.1 L357.9 417.8 L358.1 416.2 L358.0 414.6 L357.9 412.6 L358.5 411.2 L358.5 409.8 L359.0 407.9" fill="none" stroke="#000" stroke-width="3.0" stroke-linecap="butt" stroke-linejoin="round" stroke-dasharray="8.4 3.1"/>
<path d="M256.7 644.1 L258.8 643.1 L260.5 642.8 L261.1 642.0 L262.0 641.1 L263.9 640.3 L265.5 639.7 L267.3 639.4 L269.0 638.6 L270.1 637.8 L271.4 637.2 L273.1 636.5 L274.1 635.1 L275.9 634.7 L277.0 633.7 L279.5 632.8 L280.2 632.0 L280.8 631.0 L281.9 629.9 L283.3 628.4 L284.0 627.5 L285.6 627.1 L286.9 625.6 L288.9 624.6 L289.8 624.1 L291.0 623.3 L292.1 622.3 L293.5 621.0 L295.1 620.4 L296.3 619.0 L298.0 617.8 L298.5 616.9 L300.3 615.8 L301.2 614.9 L302.2 613.7 L302.6 612.4 L304.0 611.4 L305.8 610.1 L307.1 609.0 L307.7 607.3 L309.0 606.1 L309.6 605.3 L310.5 603.5 L311.3 602.4 L312.7 601.1 L313.3 599.6 L313.9 598.2 L314.6 597.1 L315.7 594.9 L316.3 594.2 L316.6 593.0 L318.2 591.1 L318.4 589.6 L319.1 588.3 L320.3 587.1 L320.9 585.0 L321.2 583.9 L322.2 582.4 L322.4 581.1 L323.2 579.6 L323.4 578.3 L325.5 576.6 L325.2 575.3 L326.9 573.8 L327.2 572.4 L327.9 571.1 L328.9 569.6 L329.7 567.9 L330.4 567.0 L331.4 565.2 L331.4 563.4 L332.2 562.4 L332.1 560.4 L333.1 559.2 L333.4 557.5 L333.6 556.0 L334.2 554.5 L334.7 552.7 L335.2 551.3 L335.7 550.2 L335.8 547.7 L336.2 546.7 L337.2 545.2 L336.8 543.3 L337.7 541.7 L339.0 540.9 L338.0 538.9 L339.3 537.9 L340.3 536.0 L340.0 534.4 L342.0 532.9 L340.7 531.4 L342.6 530.0 L343.1 528.3 L343.3 526.7 L343.3 525.2 L343.9 523.9 L343.8 522.2 L344.7 520.2 L344.4 518.7 L345.0 517.3 L345.7 515.5 L345.3 514.0 L345.8 512.3 L346.3 510.8 L346.0 509.4 L347.2 507.9 L347.2 506.1 L346.9 505.0 L347.8 502.9 L347.9 502.0 L348.3 500.0 L348.9 498.3 L349.0 496.6 L350.0 494.5 L349.8 493.5 L350.8 492.0 L350.9 490.8 L351.6 488.6 L351.5 487.7 L351.9 485.7 L352.1 484.3 L353.1 482.1 L353.6 481.1 L354.4 479.4 L354.5 478.0 L354.5 476.3 L354.7 474.5 L355.3 473.4 L355.5 471.7 L356.4 470.1 L356.6 468.7 L356.3 467.1 L356.7 465.3 L357.8 463.4 L357.8 461.8 L357.9 460.8 L358.7 459.1 L358.5 457.4 L358.9 455.7 L359.1 454.2 L358.9 452.7 L360.2 451.0 L359.7 449.3 L360.2 448.3 L360.5 446.4 L361.3 444.6 L361.3 442.9 L361.6 441.4 L361.3 440.1 L362.1 438.5 L361.9 436.7 L362.8 435.2 L363.1 433.5 L363.2 431.8 L364.2 430.7 L363.9 428.9 L364.2 427.7 L364.3 425.5 L364.4 424.0 L365.1 422.6 L365.4 420.8 L364.7 418.9 L365.8 417.4 L365.8 416.0 L366.2 414.5 L366.2 412.8 L365.9 411.4 L366.1 409.8 L367.3 408.1" fill="none" stroke="#000" stroke-width="3.0" stroke-linecap="butt" stroke-linejoin="round" stroke-dasharray="8.4 3.1"/>
<path d="M273.0 643.9 L274.5 643.3 L276.2 642.7 L277.7 642.1 L278.8 640.7 L280.1 640.0 L281.0 638.9 L281.8 637.5 L282.8 636.1 L284.3 634.8 L285.3 634.0 L287.0 632.9 L288.0 632.2 L289.7 631.4 L291.2 630.6 L292.4 629.5 L293.2 628.7 L294.6 627.5 L295.8 626.4 L296.8 625.3 L298.3 624.0 L299.6 622.9 L300.4 621.8 L302.1 620.8 L302.7 619.5 L303.8 618.2 L304.8 617.2 L305.7 615.9 L307.0 614.3 L307.8 613.5 L309.1 612.0 L309.8 610.6 L310.6 609.4 L311.3 607.9 L311.9 606.4 L313.0 605.4 L313.7 603.6 L315.0 602.3 L315.5 601.1 L316.8 599.4 L317.3 598.1 L318.2 596.8 L318.8 595.7 L319.6 593.8 L320.5 592.5 L321.3 591.2 L321.7 589.6 L322.7 588.0 L324.0 586.8 L324.0 585.3 L324.6 583.9 L325.1 582.5 L325.5 580.9 L326.8 579.3 L327.1 577.8 L327.7 576.1 L328.7 574.7 L329.4 573.3 L329.1 571.6 L330.1 570.2 L330.6 568.5 L331.1 567.4 L331.7 565.9 L332.1 564.1 L333.1 562.7 L333.5 561.1 L334.0 559.8 L334.7 558.1 L335.1 556.5 L335.4 554.9 L335.7 553.4 L336.5 551.6 L336.5 550.3 L336.7 548.5 L336.9 547.1 L337.5 545.5 L337.8 544.1 L338.5 542.4 L339.1 541.0 L339.0 539.2 L340.0 537.9 L340.7 536.2 L341.1 534.7 L341.4 533.2 L342.4 531.8 L342.4 529.8 L342.8 528.6 L343.2 526.8 L343.9 525.6 L344.5 523.6 L344.9 522.1 L345.0 520.5 L345.0 519.4 L345.4 517.3 L345.7 516.0 L346.1 514.3 L346.0 512.5 L346.8 511.1 L347.2 509.7 L347.3 507.9 L347.8 506.5 L347.7 504.7 L347.9 503.2 L348.5 501.6 L349.3 500.1 L349.7 498.8 L349.7 497.0 L350.5 495.4 L350.5 493.7 L351.4 492.1 L351.6 490.9 L351.7 488.9 L352.5 487.4 L352.5 485.9 L352.8 484.3 L353.1 483.1 L353.9 480.9 L354.2 479.7 L354.6 478.2 L354.9 476.3 L355.7 474.8 L355.6 473.4 L355.9 472.0 L356.8 470.0 L357.2 468.4 L357.3 467.2 L357.1 465.7 L357.7 463.8 L358.4 462.0 L358.6 460.9 L359.3 459.1 L358.9 457.7 L359.7 455.9 L359.7 454.3 L360.5 452.7 L360.4 451.4 L361.0 449.8 L360.9 447.7 L361.0 446.3 L361.3 445.1 L361.7 443.2 L361.9 441.4 L362.7 440.0 L363.0 438.4 L363.0 436.8 L363.0 435.2 L363.5 433.6 L363.6 432.0 L364.4 430.5 L364.4 428.7 L364.7 427.2 L364.7 425.6 L364.5 424.3 L365.1 422.5 L365.2 420.8 L365.8 419.3 L366.0 417.7 L366.0 416.2 L366.3 414.5 L367.0 413.1 L366.6 411.4 L366.8 409.6 L367.1 407.9" fill="none" stroke="#000" stroke-width="2.5" stroke-linecap="butt" stroke-linejoin="round" stroke-dasharray="2.3 3.4"/>
<path d="M283.3 643.7 L284.3 643.0 L285.1 641.6 L285.8 640.6 L286.8 639.2 L288.7 638.3 L290.0 636.9 L291.2 636.1 L291.6 635.0 L293.5 633.8 L294.1 632.6 L295.5 631.4 L296.6 629.6 L297.2 629.1 L298.4 627.6 L298.8 626.5 L300.2 625.1 L300.9 623.6 L302.7 622.5 L303.6 621.5 L305.0 620.5 L305.9 618.9 L306.7 617.7 L308.2 617.0 L309.0 615.4 L310.4 614.7 L311.2 613.0 L311.7 611.6 L313.0 610.6 L313.9 609.4 L314.7 607.4 L316.0 606.7 L317.1 604.9 L317.1 603.9 L317.8 602.1 L317.9 600.4 L319.3 599.3 L319.8 597.9 L319.9 596.7 L321.4 595.1 L322.1 593.4 L322.3 591.8 L323.1 590.3 L323.6 588.8 L324.9 587.3 L324.7 585.9 L325.8 584.0 L327.3 583.1 L327.3 581.6 L328.1 580.7 L328.6 578.8 L328.9 577.1 L330.0 575.9 L330.8 574.0 L331.0 572.7 L332.2 571.0 L333.2 570.2 L333.8 568.6 L333.5 566.7 L334.3 565.5 L334.7 564.2 L336.3 562.6 L336.7 561.1 L337.4 559.3 L337.4 557.9 L337.8 556.5 L338.7 555.1 L339.1 553.2 L339.2 551.6 L340.0 550.5 L340.6 548.5 L340.9 547.4 L341.0 545.7 L341.2 544.3 L342.5 543.0 L343.3 541.4 L343.8 539.9 L344.5 538.1 L345.1 536.7 L346.3 535.5 L346.8 534.3 L347.6 532.8 L347.9 531.5 L348.7 529.6 L349.6 528.1 L349.7 526.8 L350.2 525.1 L351.0 523.6 L352.0 521.8 L352.1 520.7 L352.9 518.7 L352.8 517.5 L353.1 515.5 L353.1 514.5 L353.8 512.5 L354.8 511.3 L354.8 509.2 L355.3 507.9 L355.7 506.6 L355.8 504.6 L356.0 503.2 L356.5 501.6 L357.0 499.6 L357.3 498.6 L357.6 497.0 L357.8 495.1 L357.8 493.9 L358.3 492.0 L358.3 490.4 L359.3 489.0 L358.5 487.3 L359.5 486.3 L360.7 483.9 L360.1 482.8 L360.1 481.3 L360.8 479.1 L361.6 477.6 L361.4 476.5 L362.0 474.7 L362.2 473.3 L362.3 471.9 L363.9 470.0 L363.1 468.3 L363.3 466.3 L363.6 465.4 L364.2 463.6 L364.5 462.2 L365.0 460.6 L365.1 458.7 L364.8 457.8 L365.8 456.1 L365.8 454.4 L366.0 452.4 L365.9 451.0 L366.5 449.4 L366.7 447.8 L367.2 446.1 L366.9 444.8 L367.7 443.2 L368.0 441.6 L367.8 439.9 L368.2 438.6 L368.3 436.8 L369.2 434.6 L368.2 433.5 L369.2 432.0 L369.0 430.6 L369.6 428.7 L370.3 427.2 L370.0 425.5 L370.5 424.2 L370.3 422.3 L371.5 420.7 L371.4 419.1 L371.6 417.7 L371.0 415.9 L371.2 414.1 L372.2 412.9 L371.9 411.1 L372.0 409.7 L372.4 408.1" fill="none" stroke="#000" stroke-width="3.0" stroke-linecap="butt" stroke-linejoin="round" stroke-dasharray="8.4 3.1"/>
<path d="M296.4 643.5 L297.5 642.5 L298.2 641.2 L299.3 639.8 L299.9 638.2 L301.4 637.2 L301.9 635.8 L302.9 634.1 L303.2 632.5 L303.6 631.2 L305.4 630.2 L306.0 628.6 L306.9 627.3 L307.8 626.1 L308.9 624.9 L309.8 623.4 L310.0 622.0 L311.5 620.5 L311.8 619.4 L312.5 617.8 L313.7 616.1 L314.1 614.4 L314.4 613.0 L314.7 611.7 L315.8 610.0 L316.4 608.8 L316.9 607.2 L317.2 605.7 L318.0 604.3 L318.6 602.8 L319.7 601.1 L320.5 599.7 L321.3 598.7 L321.7 596.7 L322.7 595.4 L323.6 594.3 L324.1 592.7 L325.1 591.2 L326.5 589.7 L326.8 588.6 L327.9 587.3 L328.4 586.0 L329.4 584.5 L329.9 583.2 L331.1 581.5 L332.2 580.3 L333.1 578.7 L333.6 577.4 L334.0 576.0 L334.5 574.5 L334.9 572.7 L335.5 571.5 L336.3 569.7 L336.6 568.1 L337.6 566.7 L337.7 565.0 L338.1 563.8 L338.9 562.3 L339.4 560.7 L340.1 559.3 L341.3 557.7 L341.6 556.3 L342.3 554.5 L343.1 553.2 L343.7 551.6 L343.8 550.1 L344.9 548.7 L345.3 547.2 L345.9 545.5 L346.7 544.1 L347.0 542.8 L347.9 541.5 L348.9 540.1 L349.9 538.8 L350.5 537.4 L351.4 535.9 L352.5 534.4 L353.4 532.9 L354.1 531.5 L355.0 530.2 L355.4 528.8 L356.1 527.4 L357.0 525.9 L357.5 524.4 L358.1 523.1 L359.3 521.5 L359.4 520.0 L359.8 518.5 L360.8 516.9 L361.7 515.3 L361.8 514.0 L362.7 512.5 L362.8 510.8 L363.3 509.3 L363.8 508.1 L364.4 506.2 L365.4 504.7 L365.2 503.2 L366.4 501.5 L366.2 500.1 L366.9 498.8 L367.6 497.1 L368.0 495.5 L368.4 494.0 L368.4 492.4 L369.3 490.9 L369.4 489.2 L370.7 487.6 L370.4 486.1 L370.9 484.6 L371.0 483.0 L371.5 481.5 L371.7 479.5 L372.6 478.4 L372.6 477.0 L373.1 475.2 L373.1 473.4 L373.4 471.7 L374.2 470.3 L373.9 468.5 L373.9 467.2 L374.8 465.4 L374.6 464.0 L375.1 462.5 L375.7 460.3 L375.5 459.1 L376.2 457.3 L376.1 455.6 L376.9 454.2 L377.2 452.6 L377.0 451.2 L377.4 449.2 L377.5 448.0 L378.0 446.6 L378.6 444.8 L378.2 443.2 L379.1 441.5 L378.8 439.7 L379.2 438.4 L379.3 436.8 L380.5 435.2 L380.3 433.9 L380.6 432.0 L380.7 430.4 L381.4 429.0 L380.9 426.9 L381.7 425.4 L382.5 423.9 L382.2 422.3 L382.5 420.9 L383.0 419.1 L382.9 417.8 L383.4 416.2 L383.9 414.5 L384.0 412.7 L384.3 411.3 L384.4 409.7 L384.9 407.8" fill="none" stroke="#000" stroke-width="2.5" stroke-linecap="butt" stroke-linejoin="round" stroke-dasharray="2.3 3.2"/>
<path d="M168.3 590 H175.5" stroke="#8c8c8c" stroke-width="1.6" fill="none"/>
<path d="M290 582.5 H311.5" stroke="#111" stroke-width="1.1" fill="none"/>
<path d="M341.4 570 H352.2" stroke="#808080" stroke-width="1.8" fill="none"/>
</g>
<g id="labels">
<text x="84" y="51.4" text-anchor="end" class="s">150</text>
<text x="84" y="133.2" text-anchor="end" class="s">100</text>
<text x="84" y="215.1" text-anchor="end" class="s">50</text>
<text x="84" y="296.9" text-anchor="end" class="s">0</text>
<text x="90.2" y="312.3" text-anchor="middle" class="s">200</text>
<text x="185.4" y="312.3" text-anchor="middle" class="s">400</text>
<text x="280.8" y="312.3" text-anchor="middle" class="s">600</text>
<text x="376.6" y="312.3" text-anchor="middle" class="s">800</text>
<text x="242.6" y="338.5" text-anchor="middle" class="s l">Diameter (<tspan class="sym">μ</tspan>m)</text>
<text transform="translate(38.8 168.3) rotate(-90)" text-anchor="middle" class="s l">Pressure (mmHg)</text>
<text x="16" y="34.4" class="t big">(a)</text>
<text x="188.8" y="47.3" class="t">LCCA-B/CCA</text>
<text x="346.9" y="47.3" class="t">RCCA-B</text>
<text x="163" y="156.5" class="t sm">ID</text>
<text x="320.2" y="226.4" class="t sm">OD</text>
<text x="79.5" y="414.1" text-anchor="end" class="s b">8</text>
<text x="79.5" y="481.7" text-anchor="end" class="s b">6</text>
<text x="79.5" y="549.1" text-anchor="end" class="s b">4</text>
<text x="79.5" y="616.5" text-anchor="end" class="s b">2</text>
<text x="85.3" y="665.6" text-anchor="middle" class="s b">1</text>
<text x="155.9" y="665.6" text-anchor="middle" class="s b">1.2</text>
<text x="226.5" y="665.6" text-anchor="middle" class="s b">1.4</text>
<text x="297.0" y="665.6" text-anchor="middle" class="s b">1.6</text>
<text x="368.2" y="665.6" text-anchor="middle" class="s b">1.8</text>
<text transform="translate(52.9 519.4) rotate(-90)" text-anchor="middle" class="s l">Axial Force (mN)</text>
<text x="233.5" y="694.6" class="t lam">λ</text>
<text x="245.3" y="701.2" class="s z">z</text>
<text x="19" y="393.3" class="t big">(b)</text>
<text x="169.6" y="389.3" class="t">RCCA-B</text>
<text x="313" y="389.3" class="t">LCCA-B/CCA</text>
<text x="148" y="585.7" class="t st">**</text>
<text x="258.9" y="578.1" class="t st">***</text>
<text x="352.3" y="565.8" class="t st">*</text>
</g>
</svg>
</body>
</html>
